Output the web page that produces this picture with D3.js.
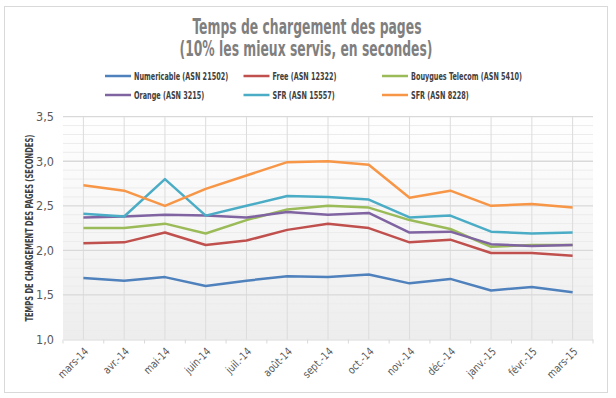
<!DOCTYPE html>
<html lang="fr">
<head>
<meta charset="UTF-8">
<title>Temps de chargement des pages</title>
<script src="https://d3js.org/d3.v7.min.js"></script>
<style>
  body { margin: 0; background: #fff; }
  svg text { font-family: "DejaVu Sans Condensed", "DejaVu Sans", sans-serif; }
</style>
</head>
<body>
<svg id="chart" width="616" height="398"></svg>
<script>
// months (x categories)
const months = ["mars-14", "avr.-14", "mai-14", "juin-14", "juil.-14", "août-14", "sept.-14",
                "oct.-14", "nov.-14", "déc.-14", "janv.-15", "févr.-15", "mars-15"];

const seriesNames = ["Numericable (ASN 21502)", "Free (ASN 12322)", "Bouygues Telecom (ASN 5410)",
                     "Orange (ASN 3215)", "SFR (ASN 15557)", "SFR (ASN 8228)"];

const numericable = [1.69, 1.66, 1.70, 1.60, 1.66, 1.71, 1.70, 1.73, 1.63, 1.68, 1.55, 1.59, 1.53];
const free        = [2.08, 2.09, 2.20, 2.06, 2.11, 2.23, 2.30, 2.25, 2.09, 2.12, 1.97, 1.97, 1.94];
const bouygues    = [2.25, 2.25, 2.30, 2.19, 2.34, 2.46, 2.50, 2.48, 2.34, 2.24, 2.04, 2.06, 2.06];
const orange      = [2.37, 2.38, 2.40, 2.39, 2.37, 2.43, 2.40, 2.42, 2.20, 2.21, 2.07, 2.05, 2.06];
const sfr15557    = [2.41, 2.38, 2.80, 2.39, 2.50, 2.61, 2.60, 2.57, 2.37, 2.39, 2.21, 2.19, 2.20];
const sfr8228     = [2.73, 2.67, 2.50, 2.69, 2.84, 2.99, 3.00, 2.96, 2.59, 2.67, 2.50, 2.52, 2.48];

const yTicks = [1.0, 1.5, 2.0, 2.5, 3.0, 3.5];

const colors = ["#4f81bd", "#c0504d", "#9bbb59", "#8064a2", "#4bacc6", "#f79646"];
const allSeries = [numericable, free, bouygues, orange, sfr15557, sfr8228];

const svg = d3.select("#chart");
const margin = {left: 63, right: 593, top: 116.7, bottom: 339.5};

// squeeze text horizontally (no narrow font installed)
function condense(sel, ratio) {
  sel.each(function() {
    const w = this.getComputedTextLength();
    d3.select(this).attr("textLength", w * ratio).attr("lengthAdjust", "spacingAndGlyphs");
  });
}

// outer frame
svg.append("rect")
  .attr("x", 4.5).attr("y", 6.5).attr("width", 603).attr("height", 386)
  .attr("fill", "#fff").attr("stroke", "#d9d9d9");

const x = d3.scaleBand().domain(months).range([margin.left, margin.right]);
const y = d3.scaleLinear().domain([1, 3.5]).range([margin.bottom, margin.top]);

// plot background gradient
const grad = svg.append("defs").append("linearGradient")
  .attr("id", "bg").attr("x1", 0).attr("y1", 0).attr("x2", 0).attr("y2", 1);
grad.append("stop").attr("offset", "0%").attr("stop-color", "#ffffff");
grad.append("stop").attr("offset", "100%").attr("stop-color", "#ededed");
svg.append("rect")
  .attr("x", margin.left).attr("y", margin.top)
  .attr("width", margin.right - margin.left).attr("height", margin.bottom - margin.top)
  .attr("fill", "url(#bg)");

// minor gridlines every 0.1
svg.append("g").selectAll("line")
  .data(d3.range(10, 36).map(d => d / 10).filter(d => Math.round(d * 10) % 5 !== 0))
  .join("line")
  .attr("x1", margin.left).attr("x2", margin.right)
  .attr("y1", d => y(d)).attr("y2", d => y(d))
  .attr("stroke", "#ececec").attr("stroke-width", 1);

// vertical gridlines
svg.append("g").selectAll("line")
  .data(months)
  .join("line")
  .attr("x1", d => x(d) + x.bandwidth() / 2).attr("x2", d => x(d) + x.bandwidth() / 2)
  .attr("y1", margin.top).attr("y2", margin.bottom)
  .attr("stroke", "#dcdcdc");

// major gridlines
svg.append("g").selectAll("line")
  .data(yTicks.slice(1))
  .join("line")
  .attr("x1", margin.left).attr("x2", margin.right)
  .attr("y1", d => y(d)).attr("y2", d => y(d))
  .attr("stroke", "#d9d9d9").attr("stroke-width", 1.3);

// y axis
const yAxis = svg.append("g")
  .attr("transform", `translate(${margin.left},0)`)
  .call(d3.axisLeft(y).tickValues(yTicks).tickSize(0).tickPadding(9)
    .tickFormat(d => d3.format(".1f")(d).replace(".", ",")));
yAxis.select(".domain").remove();
yAxis.selectAll("text").attr("font-size", 12.5).attr("fill", "#595959")
  .attr("font-family", "'Liberation Sans', 'DejaVu Sans', sans-serif");

// x axis
const xAxis = svg.append("g")
  .attr("transform", `translate(0,${margin.bottom})`)
  .call(d3.axisBottom(x).tickSize(0));
xAxis.select(".domain").attr("stroke", "#d9d9d9");
xAxis.selectAll(".tick text").remove();
// ticks at band edges
svg.append("g").selectAll("line")
  .data(months.concat(["end"]))
  .join("line")
  .attr("x1", (d, i) => margin.left + i * x.step()).attr("x2", (d, i) => margin.left + i * x.step())
  .attr("y1", margin.bottom).attr("y2", margin.bottom + 4)
  .attr("stroke", "#d9d9d9");
svg.append("g").selectAll("text")
  .data(months)
  .join("text")
  .attr("transform", d => `translate(${x(d) + x.bandwidth() / 2 + 3},${margin.bottom + 10}) rotate(-45)`)
  .attr("text-anchor", "end")
  .attr("dy", "0.35em")
  .attr("font-size", 11)
  .attr("fill", "#595959")
  .text(d => d)
  .call(condense, 0.92);

// lines
const line = d3.line()
  .x((d, i) => x(months[i]) + x.bandwidth() / 2)
  .y(d => y(d));
svg.append("g").selectAll("path")
  .data(allSeries)
  .join("path")
  .attr("d", d => line(d))
  .attr("fill", "none")
  .attr("stroke", (d, i) => colors[i])
  .attr("stroke-width", 2.5)
  .attr("stroke-linejoin", "round");

// title
const title = svg.append("g").attr("font-size", 21).attr("font-weight", "bold").attr("fill", "#7f7f7f");
title.append("text").attr("x", 307).attr("y", 34).attr("text-anchor", "middle")
  .text("Temps de chargement des pages").attr("textLength", 229).attr("lengthAdjust", "spacingAndGlyphs");
title.append("text").attr("x", 306).attr("y", 56).attr("text-anchor", "middle")
  .text("(10% les mieux servis, en secondes)").attr("textLength", 253).attr("lengthAdjust", "spacingAndGlyphs");

// legend
const legend = svg.append("g").selectAll("g")
  .data(seriesNames)
  .join("g")
  .attr("transform", (d, i) => `translate(${105 + (i % 3) * 138.5},${i < 3 ? 76 : 95})`);
legend.append("line")
  .attr("x1", 0).attr("x2", 26).attr("y1", 0).attr("y2", 0)
  .attr("stroke", (d, i) => colors[i]).attr("stroke-width", 2.5);
legend.append("text")
  .attr("x", 29).attr("dy", "0.35em")
  .attr("font-size", 10).attr("font-weight", "bold").attr("fill", "#404040")
  .text(d => d)
  .call(condense, 0.72);

// y axis title
svg.append("text")
  .attr("transform", `translate(29,${(margin.top + margin.bottom) / 2}) rotate(-90)`)
  .attr("text-anchor", "middle").attr("dy", "0.35em")
  .attr("font-size", 10).attr("font-weight", "bold").attr("fill", "#404040")
  .text("TEMPS DE CHARGEMENT DES PAGES (SECONDES)")
  .attr("textLength", 187).attr("lengthAdjust", "spacingAndGlyphs");
</script>
</body>
</html>
